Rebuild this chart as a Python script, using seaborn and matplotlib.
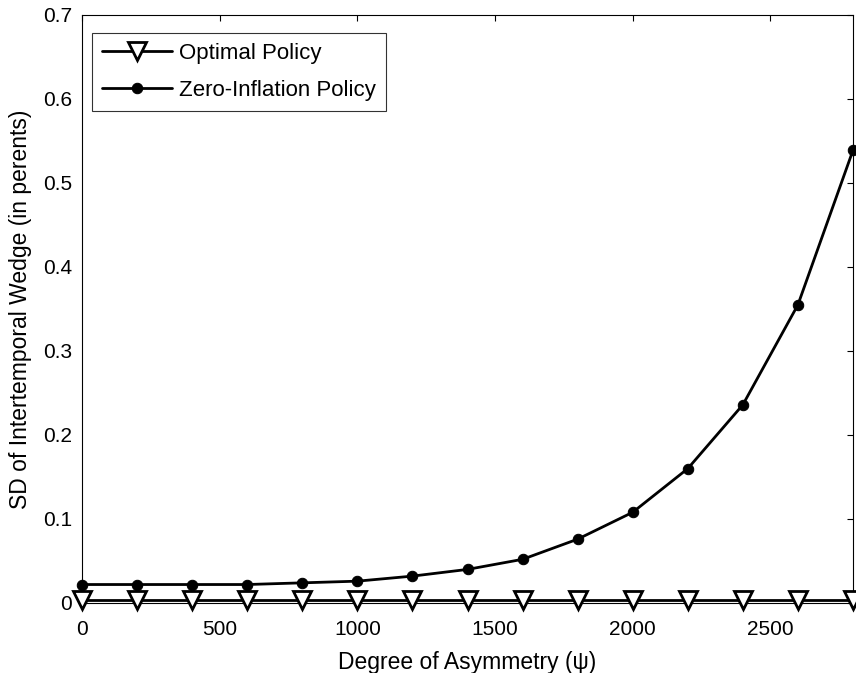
import matplotlib
matplotlib.use("Agg")
import matplotlib.pyplot as plt
import seaborn as sns
import pandas as pd

psi = [0, 200, 400, 600, 800, 1000, 1200, 1400, 1600, 1800, 2000, 2200, 2400, 2600, 2800]
optimal = [0.003] * 15
zero_infl = [0.022, 0.022, 0.022, 0.022, 0.024, 0.026, 0.032, 0.040, 0.052, 0.076,
             0.108, 0.160, 0.236, 0.355, 0.539]
xticks = [0, 500, 1000, 1500, 2000, 2500]
yticks = [0, 0.1, 0.2, 0.3, 0.4, 0.5, 0.6, 0.7]
ytick_labels = ["0", "0.1", "0.2", "0.3", "0.4", "0.5", "0.6", "0.7"]

sns.set_theme(style="white")
plt.rcParams['font.family'] = ['Liberation Sans', 'DejaVu Sans']
plt.rcParams['text.color'] = 'black'
plt.rcParams['axes.labelcolor'] = 'black'
plt.rcParams['xtick.color'] = 'black'
plt.rcParams['ytick.color'] = 'black'

fig = plt.figure(figsize=(8.56, 6.73), dpi=100)
ax = fig.add_axes([82/856, 1-603/673, (853-82)/856, (603-15)/673])

df_opt = pd.DataFrame({"psi": psi, "val": optimal})
df_zero = pd.DataFrame({"psi": psi, "val": zero_infl})

sns.lineplot(data=df_opt, x="psi", y="val", ax=ax, color="black", linewidth=2,
             marker="v", markersize=13, markerfacecolor="white",
             markeredgecolor="black", markeredgewidth=2, label="Optimal Policy",
             clip_on=False, zorder=3)
sns.lineplot(data=df_zero, x="psi", y="val", ax=ax, color="black", linewidth=2,
             marker="o", markersize=7.5, markerfacecolor="black",
             markeredgecolor="black", label="Zero-Inflation Policy",
             clip_on=False, zorder=3)

ax.set_xlim(0, 2800)
ax.set_ylim(0, 0.7)
ax.set_xticks(xticks)
ax.set_xticklabels([str(t) for t in xticks])
ax.set_yticks(yticks)
ax.set_yticklabels(ytick_labels)
ax.tick_params(direction="in", length=4, width=0.8, top=True, right=True,
               labelsize=15, colors="black")
ax.tick_params(axis="x", pad=12)
ax.tick_params(axis="y", pad=7)
for s in ax.spines.values():
    s.set_visible(True)
    s.set_color("black")
    s.set_linewidth(0.8)

ax.set_xlabel("Degree of Asymmetry (ψ)", fontsize=16.5, labelpad=9, color="black")
ax.set_ylabel("SD of Intertemporal Wedge (in perents)", fontsize=16.5, labelpad=8,
              color="black")

leg = ax.legend(loc="upper left", bbox_to_anchor=(10/771, 1 - 18/588), fontsize=16,
                frameon=True, fancybox=False, edgecolor="black",
                handlelength=3.15, handletextpad=0.3, borderaxespad=0,
                borderpad=0.45, labelspacing=0.72)
leg.get_frame().set_linewidth(0.8)
for t in leg.get_texts():
    t.set_color("black")

fig.savefig("out.png", dpi=100)
